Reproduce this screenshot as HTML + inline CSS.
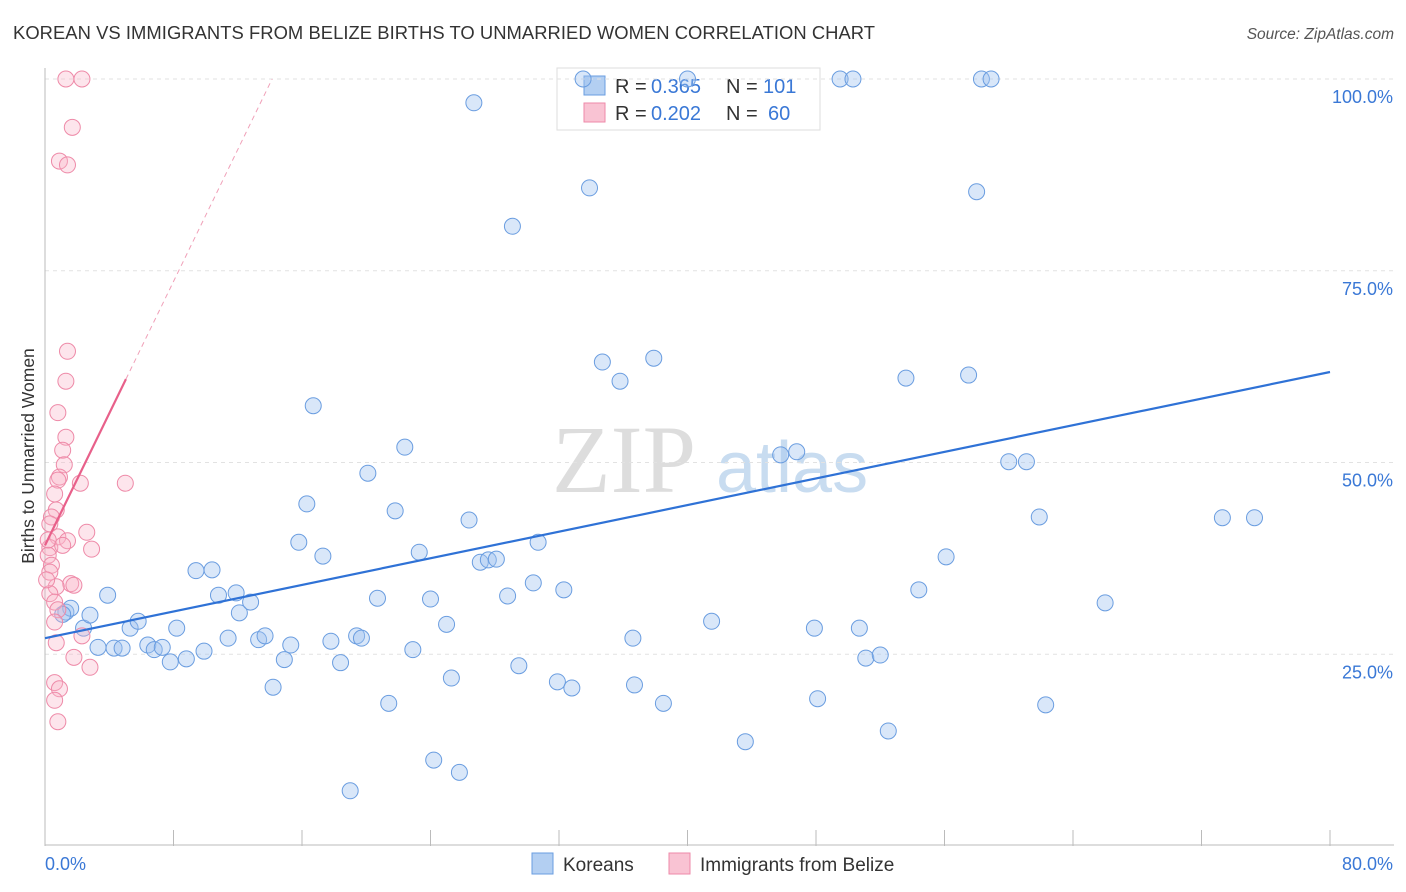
<!DOCTYPE html>
<html><head><meta charset="utf-8">
<style>
body{margin:0;background:#fff;width:1406px;height:892px;overflow:hidden;font-family:"Liberation Sans",sans-serif;}
svg{display:block}
</style></head>
<body>
<svg id="chart" width="1406" height="892">
<text x="13" y="39" font-size="18.4" fill="#333" textLength="862">KOREAN VS IMMIGRANTS FROM BELIZE BIRTHS TO UNMARRIED WOMEN CORRELATION CHART</text>
<text x="1394" y="39" font-size="15.5" fill="#555" font-style="italic" text-anchor="end">Source: ZipAtlas.com</text>
<text x="0" y="0" transform="translate(34,456) rotate(-90)" font-size="17.5" fill="#333" text-anchor="middle">Births to Unmarried Women</text>
<g>
<text x="552" y="492" font-size="96" font-family="Liberation Serif" fill="#ddd">ZIP</text>
<text x="716" y="492" font-size="72" fill="#c8dcf0">atlas</text>
</g>
<g>
<rect x="557" y="68" width="263" height="62" fill="#fff" stroke="#ddd"/>
<rect x="584" y="76" width="21" height="19" fill="#b3cff2" stroke="#6a9de0"/>
<rect x="584" y="103" width="21" height="19" fill="#f9c3d3" stroke="#ee8aa8"/>
<text x="615" y="93" font-size="20" fill="#333">R =</text>
<text x="651" y="93" font-size="20" fill="#3a78d6">0.365</text>
<text x="726" y="93" font-size="20" fill="#333">N =</text>
<text x="763" y="93" font-size="20" fill="#3a78d6">101</text>
<text x="615" y="120" font-size="20" fill="#333">R =</text>
<text x="651" y="120" font-size="20" fill="#3a78d6">0.202</text>
<text x="726" y="120" font-size="20" fill="#333">N =</text>
<text x="768" y="120" font-size="20" fill="#3a78d6">60</text>
</g>
<g id="grid"></g>
<g id="marks"></g>
<g>
<rect x="532" y="853" width="21" height="21" fill="#b3cff2" stroke="#6a9de0"/>
<text x="563" y="871" font-size="19" fill="#333">Koreans</text>
<rect x="669" y="853" width="21" height="21" fill="#f9c3d3" stroke="#ee8aa8"/>
<text x="700" y="871" font-size="19" fill="#333">Immigrants from Belize</text>
</g>
</svg>
<script>
const koreaX=[1.3,1.6,1.1,2.4,2.8,3.9,3.3,4.3,4.8,5.3,5.8,6.4,6.8,7.3,7.8,8.2,8.8,9.4,9.9,10.4,10.8,11.4,11.9,12.1,12.8,13.3,13.7,14.2,14.9,15.3,15.8,16.3,16.7,17.3,17.8,18.4,19.0,19.4,19.7,20.1,20.7,21.4,21.8,22.4,22.9,23.3,24.0,24.2,25.0,25.3,25.8,26.4,26.7,27.1,27.6,28.1,28.8,29.1,29.5,30.4,30.7,31.9,32.3,32.8,33.5,33.9,34.7,35.8,36.6,36.7,37.9,38.5,40.0,41.5,43.6,45.8,46.8,47.9,48.1,49.5,50.3,50.7,51.1,52.0,52.5,53.6,54.4,56.1,57.5,58.0,58.3,58.9,60.0,61.1,61.9,62.3,66.0,73.3,75.3];
const koreaY=[30.5,31.0,30.2,28.4,30.1,32.7,25.9,25.8,25.8,28.4,29.3,26.2,25.6,25.9,24.0,28.4,24.4,35.9,25.4,36.0,32.7,27.1,33.0,30.4,31.8,26.9,27.4,20.7,24.3,26.2,39.6,44.6,57.4,37.8,26.7,23.9,7.2,27.4,27.1,48.6,32.3,18.6,43.7,52.0,25.6,38.3,32.2,11.2,28.9,21.9,9.6,42.5,96.9,37.0,37.3,37.4,32.6,80.8,23.5,34.3,39.6,21.4,33.4,20.6,100,85.8,63.1,60.6,27.1,21.0,63.6,18.6,100,29.3,13.6,51.0,51.4,28.4,19.2,100,100,28.4,24.5,24.9,15.0,61.0,33.4,37.7,61.4,85.3,100,100,50.1,50.1,42.9,18.4,31.7,42.8,42.8];
const belizeX=[1.3,2.3,1.7,0.9,1.4,1.4,1.3,0.8,1.3,1.1,1.2,0.9,0.8,2.2,5.0,0.6,0.7,0.4,0.3,2.6,0.8,1.4,0.3,2.9,0.2,0.4,0.3,1.6,1.8,0.7,0.3,0.6,0.8,0.6,2.3,0.7,1.8,2.8,0.6,0.9,0.6,0.8,0.2,1.1,0.1];
const belizeY=[100,100,93.7,89.3,88.8,64.5,60.6,56.5,53.3,51.6,49.7,48.1,47.7,47.3,47.3,45.9,43.8,42.9,42.0,40.9,40.3,39.8,38.9,38.7,37.9,36.6,35.7,34.2,34.0,33.8,32.9,31.8,30.8,29.2,27.4,26.5,24.6,23.3,21.3,20.5,19.0,16.2,39.9,39.2,34.7];
const koreaTrend=[27.1,61.8];
const belizeTrend=[39.2,4.3];
const yTicks=[25,50,75,100];
const yTickLabels=["25.0%","50.0%","75.0%","100.0%"];

const NS="http://www.w3.org/2000/svg";
const L=45,R=1330,T=79,B=846;
const sx=v=>L+(v/80)*(R-L);
const sy=v=>B-(v/100)*(B-T);
function mk(tag,attrs,parent){const e=document.createElementNS(NS,tag);for(const k in attrs)e.setAttribute(k,attrs[k]);parent.appendChild(e);return e;}
const grid=document.getElementById('grid'),marks=document.getElementById('marks');
yTicks.forEach((t,i)=>{
 const g=mk('line',{x1:L,x2:1394,y1:sy(t),y2:sy(t),stroke:'#e2e2e2','stroke-dasharray':'4,4'},grid);
 
 
 const tx=mk('text',{x:1393,y:sy(t)+24,'font-size':18,fill:'#3a78d6','text-anchor':'end'},grid);
 tx.textContent=yTickLabels[i];
 
 
});
const ax=mk('line',{x1:L,x2:L,y1:68,y2:B,stroke:'#bbb'},grid);


const bx=mk('line',{x1:L,x2:1394,y1:B-1,y2:B-1,stroke:'#bbb'},grid);


for(let v=0;v<=80;v+=8){
 const tk=mk('line',{x1:sx(v),x2:sx(v),y1:830,y2:B,stroke:'#bbb'},grid);
 
 
}
const xl0=mk('text',{x:45,y:870,'font-size':18,fill:'#3a78d6'},grid);xl0.textContent='0.0%';


const xl1=mk('text',{x:1393,y:870,'font-size':18,fill:'#3a78d6','text-anchor':'end'},grid);xl1.textContent='80.0%';



koreaX.forEach((x,i)=>{
 const c=mk('circle',{cx:sx(x),cy:sy(koreaY[i]),r:8,fill:'rgba(160,195,240,0.4)',stroke:'#6a9de0','stroke-width':1},marks);
 
 
});
belizeX.forEach((x,i)=>{
 const c=mk('circle',{cx:sx(x),cy:sy(belizeY[i]),r:8,fill:'rgba(248,180,200,0.35)',stroke:'#ee8aa8','stroke-width':1},marks);
 
 
});
const kl=mk('line',{x1:sx(0),y1:sy(koreaTrend[0]),x2:sx(80),y2:sy(koreaTrend[1]),stroke:'#2f72d6','stroke-width':2.2},marks);


const bEnd=5.04, bDash=(100-belizeTrend[0])/belizeTrend[1];
const bl=mk('line',{x1:sx(0),y1:sy(belizeTrend[0]),x2:sx(bEnd),y2:sy(belizeTrend[0]+belizeTrend[1]*bEnd),stroke:'#e8608a','stroke-width':2.2},marks);


const bd=mk('line',{x1:sx(bEnd),y1:sy(belizeTrend[0]+belizeTrend[1]*bEnd),x2:sx(bDash),y2:sy(100),stroke:'#f0a0b8','stroke-width':1,'stroke-dasharray':'5,4'},marks);


</script>
</body></html>
